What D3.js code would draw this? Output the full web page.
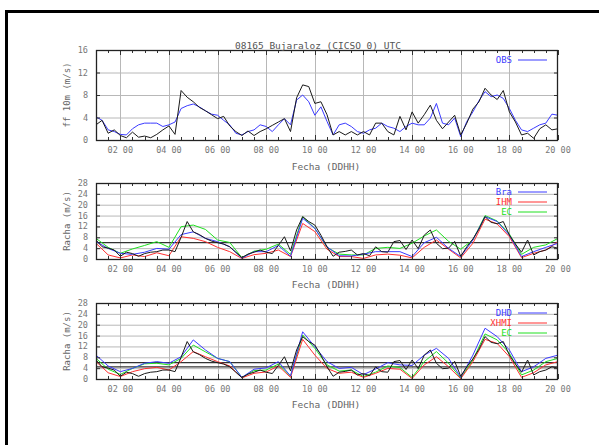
<!DOCTYPE html>
<html><head><meta charset="utf-8">
<script src="https://cdn.jsdelivr.net/npm/d3@7"></script>
<style>body{margin:0;background:#fff}svg{display:block}</style>
</head><body>
<script>
// ---- data ----
const tStart = 1;            // hour of first sample (01 00)
const obsStep = 0.25;        // hours between observed samples
const modStep = 0.5;         // hours between model samples
const xTickHours = [2,4,6,8,10,12,14,16,18,20];
const title = "08165 Bujaraloz (CICSO 0) UTC";
const xTitle = "Fecha (DDHH)";

const ffObs = [2.7,3.5,1.2,1.8,0.8,0.4,1.4,0.5,0.7,0.4,1.0,1.8,2.5,1.0,8.8,7.6,6.8,5.8,5.2,4.5,3.8,4.2,2.5,1.5,0.8,1.6,0.8,1.5,2.0,2.6,3.2,3.8,1.5,7.5,9.8,9.5,6.5,6.8,4.5,0.9,1.5,0.9,1.5,0.9,1.5,0.9,3.0,3.0,1.5,0.9,4.2,1.8,5.0,3.0,4.5,6.2,3.5,2.0,3.2,4.4,0.9,3.0,5.5,6.8,9.2,8.0,7.2,8.8,5.0,3.2,0.9,1.2,0.3,2.0,2.7,1.8,2.0];
const ffOBS = [4.1,3.5,1.8,1.5,1.0,0.9,2.0,2.7,3.0,3.0,3.0,2.4,2.7,3.2,5.6,6.1,6.4,5.9,5.2,4.6,4.4,3.5,2.7,1.2,0.9,1.5,1.8,2.7,2.4,1.5,2.7,3.8,2.7,7.1,8.0,6.8,4.4,5.9,3.3,0.9,2.7,3.0,2.4,1.5,1.2,1.8,2.1,3.0,2.4,2.1,1.5,2.4,3.0,2.7,2.7,3.9,6.5,3.0,2.7,3.9,0.6,3.3,5.0,7.0,8.6,7.7,8.0,7.4,5.6,3.5,1.8,1.5,2.1,2.7,3.0,4.6,4.4];
const gustObs = [7.0,4.5,4.0,3.3,1.0,2.5,2.0,1.0,2.0,2.5,2.7,3.3,3.3,2.7,8.0,13.8,10.0,9.0,7.6,6.6,6.0,5.5,4.5,2.5,0.5,1.8,2.5,3.3,2.5,2.0,5.0,8.2,3.0,10.7,15.6,13.8,12.5,8.8,4.5,1.0,2.5,2.8,3.3,1.5,2.0,1.2,4.5,2.7,2.5,6.4,6.8,3.5,7.0,3.8,8.8,10.7,5.8,3.8,4.0,6.5,1.0,4.5,7.4,11.0,15.6,13.5,13.0,13.8,8.8,5.5,2.5,7.0,1.5,2.7,3.3,4.5,4.0];
const gustBra = [6.4,3.9,2.1,1.7,2.5,3.9,3.6,9.0,10.0,7.6,6.4,4.5,0.3,2.7,2.7,5.0,1.0,15.0,11.3,4.5,1.2,1.1,1.8,2.7,2.7,2.7,0.9,6.0,8.0,3.9,0.9,7.0,15.6,13.8,8.8,0.9,2.7,4.3,5.8];
const gustIHM = [5.8,1.5,0.4,1.5,0.9,2.3,1.2,8.2,7.6,6.4,4.3,2.7,0.2,1.6,2.1,3.3,0.9,13.1,10.1,3.6,0.9,0.9,0.2,1.5,1.8,1.4,0.4,4.3,7.0,3.6,0.4,5.8,14.7,12.9,8.2,0.5,2.1,3.3,6.4];
const gustEC1 = [7.6,4.3,2.1,3.7,5.0,6.4,4.3,11.9,12.5,10.9,7.0,6.1,0.5,2.9,3.6,5.5,1.7,15.6,11.3,4.3,1.8,1.5,1.5,3.9,4.3,3.9,5.8,8.5,10.7,6.5,3.6,7.0,16.0,14.0,9.2,1.7,4.3,5.2,7.6];
const gustDHD = [8.8,4.8,2.7,3.9,5.8,6.4,5.8,8.2,14.4,10.7,7.6,6.4,0.6,3.6,4.1,6.4,1.1,17.4,11.9,6.4,3.9,4.3,1.6,3.7,6.0,5.2,5.0,8.8,11.3,7.6,0.6,8.8,18.7,15.6,10.7,2.7,4.5,7.6,8.8];
const gustXHMI = [6.4,2.3,0.9,2.7,3.8,4.3,3.3,6.4,10.1,8.2,6.4,4.8,0.4,2.1,2.6,4.8,0.6,14.6,8.8,3.9,2.1,2.5,0.6,2.1,3.9,3.6,0.2,5.2,8.2,4.5,0.1,6.4,14.6,13.1,8.2,0.6,2.3,5.2,6.4];
const gustEC2 = [7.6,3.6,1.7,3.9,5.6,5.8,5.2,7.6,12.5,10.0,7.6,6.4,0.6,3.1,3.3,5.5,1.1,16.2,11.3,5.2,2.9,3.3,0.9,2.5,4.8,4.2,0.6,6.4,10.1,5.8,0.4,7.0,16.6,14.4,9.5,1.5,3.3,6.4,7.6];
const thresholds2 = [6];
const thresholds3 = [6, 4.5];
const yTicks1 = [0,4,8,12,16];
const yTicks2 = [0,4,8,12,16,20,24,28];

const BLUE = "#3b3bff", RED = "#ff3030", GREEN = "#20e020", BLACK = "#1a1a1a";
const FONT = "DejaVu Sans Mono, Liberation Mono, monospace";

const panels = [
  {top:50, bottom:140, yTicks:yTicks1, ylabel:"ff 10m (m/s)", thr:[],
   series:[{v:ffOBS, step:obsStep, c:BLUE},{v:ffObs, step:obsStep, c:BLACK}],
   legend:[{n:"OBS", c:BLUE}], legY:60, showTitle:true, xlab:170},
  {top:183, bottom:259, yTicks:yTicks2, ylabel:"Racha (m/s)", thr:thresholds2,
   series:[{v:gustEC1, step:modStep, c:GREEN},{v:gustIHM, step:modStep, c:RED},{v:gustBra, step:modStep, c:BLUE},{v:gustObs, step:obsStep, c:BLACK}],
   legend:[{n:"Bra", c:BLUE},{n:"IHM", c:RED},{n:"EC", c:GREEN}], legY:192, xlab:288},
  {top:303, bottom:379, yTicks:yTicks2, ylabel:"Racha (m/s)", thr:thresholds3,
   series:[{v:gustEC2, step:modStep, c:GREEN},{v:gustXHMI, step:modStep, c:RED},{v:gustDHD, step:modStep, c:BLUE},{v:gustObs, step:obsStep, c:BLACK}],
   legend:[{n:"DHD", c:BLUE},{n:"XHMI", c:RED},{n:"EC", c:GREEN}], legY:313, xlab:408}
];

const W = 599, H = 445, L = 96, R = 558;
const svg = d3.select("body").append("svg").attr("width", W).attr("height", H);
svg.append("rect").attr("x",0).attr("y",0).attr("width",W).attr("height",H).attr("fill","#fff");
// outer frame (runs off the canvas right/bottom)
svg.append("rect").attr("x",6.5).attr("y",11.5).attr("width",640).attr("height",480)
  .attr("fill","none").attr("stroke","#000").attr("stroke-width",3);

const x = d3.scaleLinear().domain([1, 20]).range([L, R]);
const halfHours = d3.range(1, 20.001, 0.5);

panels.forEach(p => {
  const ymax = p.yTicks[p.yTicks.length-1];
  const y = d3.scaleLinear().domain([0, ymax]).range([p.bottom, p.top]);
  const g = svg.append("g");
  // grid
  g.selectAll(null).data(p.yTicks.slice(1, -1)).join("line")
    .attr("x1", L).attr("x2", R).attr("y1", d => y(d)+0.5).attr("y2", d => y(d)+0.5)
    .attr("stroke", "#b8b8b8").attr("stroke-width", 1);
  g.selectAll(null).data(xTickHours.slice(0, -1)).join("line")
    .attr("x1", d => Math.round(x(d))+0.5).attr("x2", d => Math.round(x(d))+0.5)
    .attr("y1", p.top).attr("y2", p.bottom).attr("stroke", "#b8b8b8").attr("stroke-width", 1);
  // threshold lines
  g.selectAll(null).data(p.thr).join("line")
    .attr("x1", L).attr("x2", R).attr("y1", d => y(d)).attr("y2", d => y(d))
    .attr("stroke", "#333").attr("stroke-width", 1.2);
  // series
  const clipId = "clip" + p.top;
  svg.append("clipPath").attr("id", clipId).append("rect")
    .attr("x", L).attr("y", p.top).attr("width", R-L).attr("height", p.bottom-p.top);
  p.series.forEach(s => {
    const line = d3.line().x((d,i) => x(tStart + i*s.step)).y(d => y(d));
    g.append("path").attr("d", line(s.v)).attr("fill","none").attr("stroke", s.c)
      .attr("stroke-width", 1).attr("clip-path", `url(#${clipId})`);
  });
  // ticks (inward, all sides)
  g.selectAll(null).data(halfHours).join("line")
    .attr("x1", d => Math.round(x(d))+0.5).attr("x2", d => Math.round(x(d))+0.5)
    .attr("y1", p.bottom).attr("y2", d => p.bottom - (d % 2 === 0 ? 5 : 3)).attr("stroke", "#333");
  g.selectAll(null).data(halfHours).join("line")
    .attr("x1", d => Math.round(x(d))+0.5).attr("x2", d => Math.round(x(d))+0.5)
    .attr("y1", p.top).attr("y2", d => p.top + (d % 2 === 0 ? 5 : 3)).attr("stroke", "#333");
  g.selectAll(null).data(p.yTicks).join("line")
    .attr("x1", L).attr("x2", L+4).attr("y1", d => y(d)+0.5).attr("y2", d => y(d)+0.5).attr("stroke", "#333");
  g.selectAll(null).data(p.yTicks).join("line")
    .attr("x1", R-4).attr("x2", R).attr("y1", d => y(d)+0.5).attr("y2", d => y(d)+0.5).attr("stroke", "#333");
  // frame
  g.append("rect").attr("x", L+0.5).attr("y", p.top+0.5).attr("width", R-L-1).attr("height", p.bottom-p.top)
    .attr("fill","none").attr("stroke","#222").attr("stroke-width",1.3);
  // y tick labels
  g.selectAll(null).data(p.yTicks).join("text")
    .attr("x", 88).attr("y", d => y(d)+3).attr("text-anchor","end")
    .attr("font-family", FONT).attr("font-size", 8.5).attr("fill", "#777").text(d => d);
  // x tick labels
  g.selectAll(null).data(xTickHours).join("text")
    .attr("x", d => x(d)).attr("y", p.bottom + 13).attr("text-anchor","middle")
    .attr("font-family", FONT).attr("font-size", 8.5).attr("fill", "#777")
    .text(d => String(d).padStart(2,"0") + " 00");
  // axis titles
  g.append("text").attr("transform", `translate(70,${(p.top+p.bottom)/2}) rotate(-90)`)
    .attr("text-anchor","middle").attr("font-family", FONT).attr("font-size", 9)
    .attr("fill", "#666").text(p.ylabel);
  g.append("text").attr("x", 326).attr("y", p.xlab).attr("text-anchor","middle")
    .attr("font-family", FONT).attr("font-size", 9.5).attr("fill", "#666").text(xTitle);
  // legend
  p.legend.forEach((e, i) => {
    const ly = p.legY + i*10;
    g.append("text").attr("x", 512).attr("y", ly+3).attr("text-anchor","end")
      .attr("font-family", FONT).attr("font-size", 9).attr("fill", e.c).text(e.n);
    g.append("line").attr("x1", 518).attr("x2", 547).attr("y1", ly).attr("y2", ly)
      .attr("stroke", e.c).attr("stroke-width", 1);
  });
  if (p.showTitle) {
    g.append("text").attr("x", 318).attr("y", p.top - 1).attr("text-anchor","middle")
      .attr("font-family", FONT).attr("font-size", 9.5).attr("fill", "#555").text(title);
  }
});
</script>
</body></html>
